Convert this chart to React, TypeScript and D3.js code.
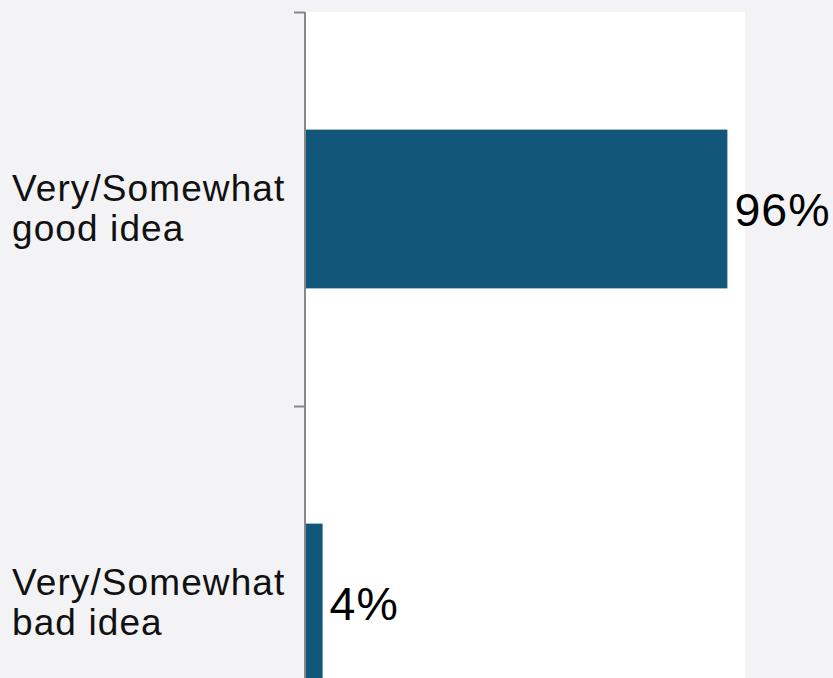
import React from "react";
import * as d3 from "d3";

const categories = ["Very/Somewhat good idea", "Very/Somewhat bad idea"];
const labelLines = [["Very/Somewhat", "good idea"], ["Very/Somewhat", "bad idea"]];
const values = [96, 4];

const W = 833;
const H = 678;
const left = 305;
const right = 745;
const top = 12;
const bottom = 800;

export default function App() {
  const x = d3.scaleLinear().domain([0, 100]).range([left, right]);
  const y = d3.scaleBand<string>().domain(categories).range([top, bottom]).padding(0);
  const bw = y.bandwidth();
  const barH = bw * 0.403;
  const font = "'Liberation Sans', Arial, sans-serif";
  return (
    <svg width={W} height={H} style={{ position: "absolute", left: 0, top: 0, display: "block" }} fontFamily={font}>
      <rect x={0} y={0} width={W} height={H} fill="#f3f3f5" />
      <rect x={left} y={top} width={right - left} height={bottom - top} fill="#ffffff" />
      {categories.map((c, i) => {
        const y0 = y(c)!;
        const cy = y0 + bw / 2;
        return (
          <g key={c}>
            <rect x={x(0)} y={cy - barH / 2} width={x(values[i]) - x(0)} height={barH} fill="#12577a" />
            <text x={x(values[i]) + 7} y={cy} dy="0.36em" fontSize={46.5} letterSpacing={1} fill="#000">
              {values[i]}%
            </text>
            {labelLines[i].map((ln, j) => (
              <text key={j} x={12} y={cy - 7.7 + j * 40} fontSize={37} letterSpacing={1.1} fill="#111">
                {ln}
              </text>
            ))}
            <line x1={294} x2={left} y1={y0 + 0.5} y2={y0 + 0.5} stroke="#888" strokeWidth={2} />
          </g>
        );
      })}
      <line x1={left} x2={left} y1={top} y2={bottom} stroke="#888" strokeWidth={2} />
    </svg>
  );
}
